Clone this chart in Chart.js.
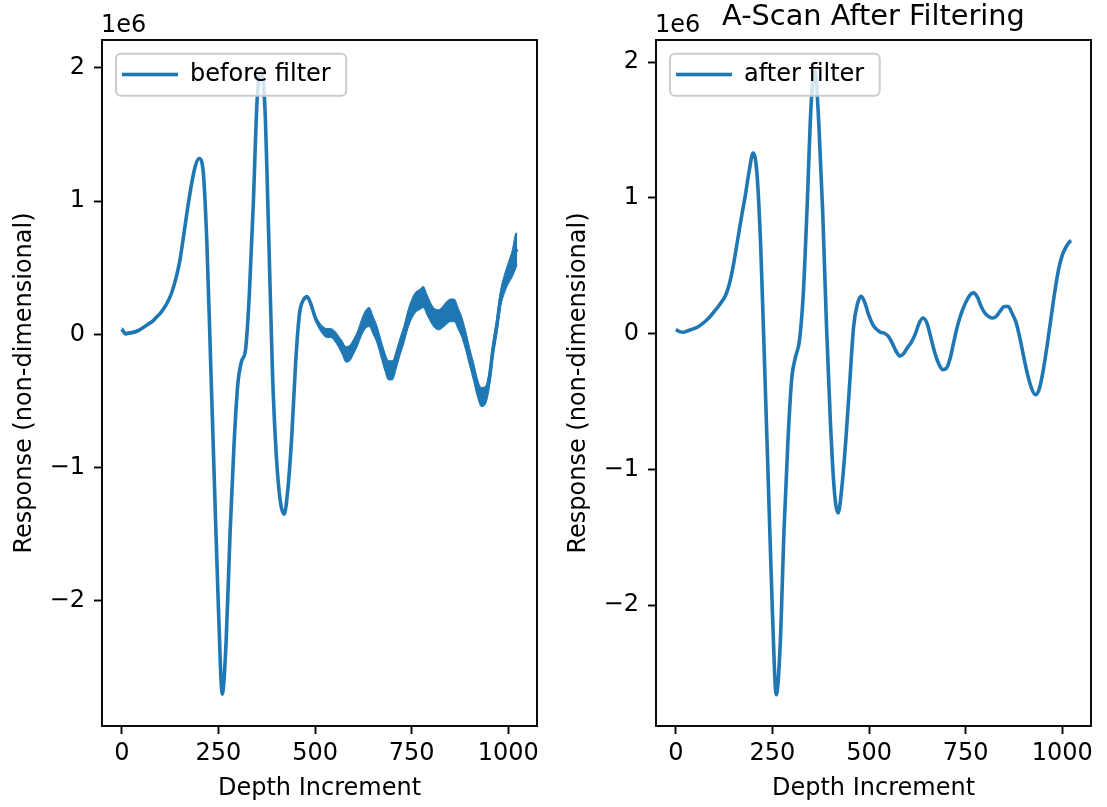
<!DOCTYPE html>
<html>
<head>
<meta charset="utf-8">
<script src="https://cdn.jsdelivr.net/npm/chart.js@4.4.1/dist/chart.umd.min.js"></script>
<style>
  html, body { margin: 0; padding: 0; background: #ffffff; }
  #wrap { position: relative; width: 1107px; height: 807px; overflow: hidden; }
  .panel { position: absolute; top: 0; width: 553px; height: 807px; }
</style>
</head>
<body>
<div id="wrap">
  <div class="panel" style="left:0px"><canvas id="cBefore" width="553" height="807"></canvas></div>
  <div class="panel" style="left:554px"><canvas id="cAfter" width="553" height="807"></canvas></div>
</div>
<script>
// Depth increments at which the A-scan is sampled
const depth = [
  0, 10, 20, 30, 40, 50, 60, 70, 80, 90,
  100, 110, 120, 130, 140, 150, 160, 170, 180, 190,
  200, 210, 220, 230, 240, 250, 260, 270, 280, 290,
  300, 310, 320, 330, 340, 350, 360, 370, 380, 390,
  400, 410, 420, 430, 440, 450, 460, 470, 480, 490,
  500, 510, 520, 530, 540, 550, 560, 570, 580, 590,
  600, 610, 620, 630, 640, 650, 660, 670, 680, 690,
  700, 710, 720, 730, 740, 750, 760, 770, 780, 790,
  800, 810, 820, 830, 840, 850, 860, 870, 880, 890,
  900, 910, 920, 930, 940, 950, 960, 970, 980, 990,
  1000, 1010, 1020, 1023
];

// Raw response (units of 1e6): running mean of the trace
const beforeFilter = [
  0.04, 0.005, 0.01, 0.015, 0.025, 0.04, 0.06, 0.08, 0.10, 0.13,
  0.16, 0.20, 0.25, 0.32, 0.42, 0.55, 0.74, 0.94, 1.12, 1.26,
  1.32, 1.24, 0.70, -0.22, -1.15, -2.05, -2.70, -2.30, -1.50, -0.85,
  -0.38, -0.20, -0.12, 0.30, 0.96, 1.75, 1.97, 1.72, 0.75, -0.30,
  -0.92, -1.25, -1.35, -1.15, -0.75, -0.20, 0.16, 0.26, 0.28, 0.22,
  0.13, 0.07, 0.03, 0.01, 0.01, -0.01, -0.05, -0.10, -0.15, -0.14,
  -0.09, -0.03, 0.05, 0.11, 0.13, 0.07, 0.00, -0.10, -0.20, -0.27,
  -0.27, -0.19, -0.09, 0.00, 0.11, 0.19, 0.24, 0.26, 0.28, 0.22,
  0.16, 0.12, 0.11, 0.13, 0.16, 0.18, 0.18, 0.12, 0.05, -0.05,
  -0.17, -0.28, -0.40, -0.47, -0.46, -0.35, -0.12, 0.06, 0.27, 0.38,
  0.46, 0.53, 0.63, 0.64
];

// Raw response: half-width of the high-frequency noise band (units of 1e6)
const beforeNoise = [
  0.012, 0.01, 0.01, 0.01, 0.01, 0.008, 0.008, 0.008, 0.008, 0.008,
  0.008, 0.008, 0.008, 0.008, 0.008, 0.008, 0.008, 0.008, 0.008, 0.008,
  0.005, 0.005, 0.005, 0.005, 0.005, 0.005, 0.005, 0.005, 0.005, 0.005,
  0.005, 0.005, 0.005, 0.005, 0.005, 0.005, 0.005, 0.005, 0.005, 0.005,
  0.005, 0.005, 0.005, 0.005, 0.005, 0.005, 0.01, 0.012, 0.013, 0.017,
  0.021, 0.025, 0.03, 0.034, 0.034, 0.038, 0.042, 0.05, 0.058, 0.058,
  0.055, 0.055, 0.06, 0.067, 0.072, 0.067, 0.064, 0.064, 0.067, 0.072,
  0.072, 0.067, 0.064, 0.064, 0.067, 0.072, 0.076, 0.076, 0.08, 0.076,
  0.072, 0.072, 0.076, 0.08, 0.085, 0.085, 0.085, 0.08, 0.076, 0.072,
  0.067, 0.067, 0.067, 0.072, 0.067, 0.064, 0.06, 0.06, 0.064, 0.07,
  0.08, 0.1, 0.13, 0.12
];

// Filtered response (units of 1e6)
const afterFilter = [
  0.03, 0.015, 0.01, 0.02, 0.03, 0.04, 0.055, 0.075, 0.10, 0.13,
  0.165, 0.20, 0.24, 0.29, 0.38, 0.52, 0.69, 0.86, 1.02, 1.20,
  1.33, 1.18, 0.62, -0.25, -1.15, -2.05, -2.66, -2.30, -1.45, -0.80,
  -0.33, -0.17, -0.05, 0.30, 0.95, 1.68, 1.933, 1.55, 0.90, 0.05,
  -0.65, -1.15, -1.32, -1.12, -0.78, -0.36, 0.05, 0.22, 0.275, 0.22,
  0.13, 0.065, 0.03, 0.01, 0.003, -0.02, -0.07, -0.13, -0.165, -0.145,
  -0.10, -0.06, 0.00, 0.08, 0.115, 0.075, -0.03, -0.14, -0.22, -0.265,
  -0.255, -0.18, -0.05, 0.07, 0.16, 0.23, 0.28, 0.30, 0.27, 0.20,
  0.15, 0.125, 0.115, 0.13, 0.17, 0.20, 0.20, 0.15, 0.085, -0.03,
  -0.17, -0.30, -0.40, -0.45, -0.41, -0.28, -0.10, 0.10, 0.30, 0.47,
  0.58, 0.64, 0.68, 0.685
];

const xTicks = [0, 250, 500, 750, 1000];
const yTicks = [-2, -1, 0, 1, 2];
const yTickLabels = ['\u22122', '\u22121', '0', '1', '2'];
const offsetText = '1e6';
const xAxisTitle = 'Depth Increment';
const yAxisTitle = 'Response (non-dimensional)';
const rightTitle = 'A-Scan After Filtering';
const beforeLabel = 'before filter';
const afterLabel = 'after filter';

const BLUE = '#1f77b4';
const FONT = '"DejaVu Sans", "Liberation Sans", sans-serif';
Chart.defaults.font.family = FONT;
Chart.defaults.color = '#000000';

// Axis limits with 5% margins on each side
function padded(lo, hi) {
  const m = 0.05 * (hi - lo);
  return [lo - m, hi + m];
}
const [xMin, xMax] = padded(depth[0], depth[depth.length - 1]);

const pts = (ys) => depth.map((d, i) => ({ x: d, y: ys[i] }));
const upperBand = beforeFilter.map((v, i) => v + beforeNoise[i]);
const lowerBand = beforeFilter.map((v, i) => v - beforeNoise[i]);

const leftRange = padded(Math.min(...lowerBand), Math.max(...upperBand));
const rightRange = padded(Math.min(...afterFilter), Math.max(...afterFilter));

// Full box frame, "1e6" offset text and a translucent legend frame drawn over the data
const framePlugin = {
  id: 'frame',
  afterLayout(chart) {
    // keep the legend in the upper-left corner of the plot area
    const lg = chart.legend;
    const a = chart.chartArea;
    if (lg) {
      const w = lg.width, h = lg.height;
      lg.left = a.left;
      lg.top = a.top + 2.5;
      lg.right = lg.left + w;
      lg.bottom = lg.top + h;
      if (typeof lg.adjustHitBoxes === 'function') lg.adjustHitBoxes();
    }
  },
  afterDatasetsDraw(chart) {
    const { ctx, chartArea: a } = chart;
    ctx.save();
    ctx.strokeStyle = '#000000';
    ctx.lineWidth = 1.9;
    ctx.strokeRect(a.left, a.top, a.right - a.left, a.bottom - a.top);
    ctx.restore();

    const lg = chart.legend;
    if (lg && lg.legendItems && lg.legendItems.length) {
      ctx.save();
      ctx.font = '24px ' + FONT;
      const textW = ctx.measureText(lg.legendItems[0].text).width;
      ctx.restore();
      const x0 = a.left + 14;
      const y0 = a.top + 13.7;
      const x1 = a.left + 20 + 56 + 12 + textW + 15.5;
      const h = 42;
      ctx.save();
      ctx.beginPath();
      ctx.roundRect(x0, y0, x1 - x0, h, 5);
      ctx.fillStyle = 'rgba(255,255,255,0.8)';
      ctx.fill();
      ctx.strokeStyle = '#cccccc';
      ctx.lineWidth = 2;
      ctx.stroke();
      ctx.restore();
      lg.draw();
    }
  },
  afterDraw(chart) {
    const { ctx, chartArea: a } = chart;
    ctx.save();
    ctx.font = '24px ' + FONT;
    ctx.fillStyle = '#000000';
    ctx.textAlign = 'left';
    ctx.textBaseline = 'alphabetic';
    ctx.fillText(offsetText, a.left - 1, a.top - 8);
    ctx.restore();
  }
};

function makeOptions(yRange, withTitle) {
  return {
    responsive: false,
    animation: false,
    devicePixelRatio: 1,
    layout: { padding: { left: 0, right: 16, top: withTitle ? 0 : 40, bottom: 0 } },
    plugins: {
      tooltip: { enabled: false },
      title: withTitle ? {
        display: true,
        text: rightTitle,
        fullSize: false,
        color: '#000000',
        font: { size: 28.8, weight: 'normal' },
        padding: { top: 0, bottom: 5.44 }
      } : { display: false },
      legend: {
        position: 'chartArea',
        align: 'start',
        labels: {
          usePointStyle: true,
          pointStyle: 'line',
          pointStyleWidth: 56,
          padding: 20,
          color: '#000000',
          font: { size: 24 },
          filter: (item) => item.datasetIndex === 0
        }
      }
    },
    scales: {
      x: {
        type: 'linear',
        min: xMin,
        max: xMax,
        afterBuildTicks: (s) => { s.ticks = xTicks.map((v) => ({ value: v })); },
        afterFit: (s) => { s.height = 81; },
        ticks: {
          autoSkip: false,
          maxRotation: 0,
          padding: 5,
          color: '#000000',
          font: { size: 24 },
          callback: (v) => String(v)
        },
        grid: {
          display: true,
          drawOnChartArea: false,
          drawTicks: true,
          tickLength: 8,
          tickWidth: 1.9,
          tickColor: '#000000'
        },
        border: { display: false },
        title: {
          display: true,
          text: xAxisTitle,
          color: '#000000',
          font: { size: 24 },
          padding: { top: 0, bottom: 4 }
        }
      },
      y: {
        type: 'linear',
        min: yRange[0],
        max: yRange[1],
        afterBuildTicks: (s) => { s.ticks = yTicks.map((v) => ({ value: v })); },
        afterFit: (s) => { s.width = 102; },
        ticks: {
          autoSkip: false,
          padding: 9,
          color: '#000000',
          font: { size: 24 },
          callback: (v) => yTickLabels[yTicks.indexOf(v)]
        },
        grid: {
          display: true,
          drawOnChartArea: false,
          drawTicks: true,
          tickLength: 8,
          tickWidth: 1.9,
          tickColor: '#000000'
        },
        border: { display: false },
        title: {
          display: true,
          text: yAxisTitle,
          color: '#000000',
          font: { size: 24 },
          padding: { top: 10.5, bottom: 0 }
        }
      }
    },
    elements: {
      point: { radius: 0, hoverRadius: 0 },
      line: { cubicInterpolationMode: 'monotone' }
    }
  };
}

// Left panel: raw trace (mean line plus noise band)
new Chart(document.getElementById('cBefore'), {
  type: 'line',
  data: {
    datasets: [
      {
        label: beforeLabel,
        data: pts(beforeFilter),
        borderColor: BLUE,
        backgroundColor: BLUE,
        borderWidth: 3.6,
        borderJoinStyle: 'round',
        fill: false
      },
      {
        label: 'upper',
        data: pts(upperBand),
        borderColor: BLUE,
        backgroundColor: BLUE,
        borderWidth: 1,
        fill: false
      },
      {
        label: 'lower',
        data: pts(lowerBand),
        borderColor: BLUE,
        backgroundColor: BLUE,
        borderWidth: 1,
        fill: '-1'
      }
    ]
  },
  options: makeOptions(leftRange, false),
  plugins: [framePlugin]
});

// Right panel: filtered trace
new Chart(document.getElementById('cAfter'), {
  type: 'line',
  data: {
    datasets: [
      {
        label: afterLabel,
        data: pts(afterFilter),
        borderColor: BLUE,
        backgroundColor: BLUE,
        borderWidth: 3.6,
        borderJoinStyle: 'round',
        fill: false
      }
    ]
  },
  options: makeOptions(rightRange, true),
  plugins: [framePlugin]
});
</script>
</body>
</html>
